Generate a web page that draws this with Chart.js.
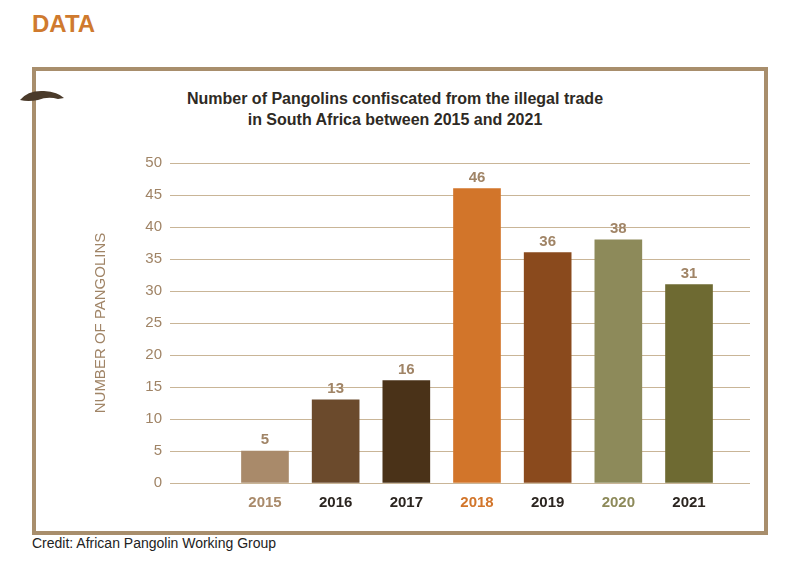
<!DOCTYPE html>
<html lang="en">
<head>
    <meta charset="UTF-8">
    <title>Pangolins confiscated</title>
    <script src="https://cdn.jsdelivr.net/npm/chart.js"></script>
    <style>
        body { margin: 0; background: #fff; font-family: "Liberation Sans Narrow", "Liberation Sans", sans-serif; }
        .page { position: relative; width: 800px; height: 564px; overflow: hidden; }
        .heading { position: absolute; left: 32px; top: 10px; font-size: 24px; font-weight: bold; color: #cf7a2e; }
        .frame { position: absolute; left: 32px; top: 67px; width: 728px; height: 460px; border: 4px solid #a88e6c; }
        .title { position: absolute; left: 0; width: 790px; top: 88px; text-align: center; font-size: 16px; font-weight: bold; color: #2e2a24; line-height: 21px; }
        .credit { position: absolute; left: 32px; top: 535px; font-size: 14px; color: #222; font-family: "Liberation Sans", sans-serif; }
        .icon { position: absolute; left: 18px; top: 86px; }
        canvas { position: absolute; left: 0; top: 0; }
    </style>
</head>
<body>
<div class="page">
    <div class="heading">DATA</div>
    <div class="frame"></div>
    <svg class="icon" width="50" height="20"><path d="M2 14 Q10 4 26 5 Q40 6 46 12 L40 13 Q30 10 20 14 Q10 16 2 14Z" fill="#4a3a2a"/></svg>
    <div class="title">Number of Pangolins confiscated from the illegal trade<br>in South Africa between 2015 and 2021</div>
    <div class="credit">Credit: African Pangolin Working Group</div>
    <canvas id="chart" width="800" height="564"></canvas>
</div>
<script>
    // values
    const years = [2015, 2016, 2017, 2018, 2019, 2020, 2021];
    const counts = [5, 13, 16, 46, 36, 38, 31];
    const barColors = ['#a98a6a', '#6b4a2c', '#4a3218', '#d2752a', '#8a4a1d', '#8d8a5a', '#6e6a32'];
    const tickColors = { 2015: '#a98a6a', 2016: '#2b2520', 2017: '#2b2520', 2018: '#d2752a', 2019: '#2b2520', 2020: '#8d8a5a', 2021: '#2b2520' };
    const font = "'Liberation Sans Narrow', 'Liberation Sans', sans-serif";

    // value labels above the bars
    const valueLabels = {
        id: 'valueLabels',
        afterDatasetsDraw(chart) {
            const ctx = chart.ctx;
            ctx.save();
            ctx.font = 'bold 15px ' + font;
            ctx.fillStyle = '#a08466';
            ctx.textAlign = 'center';
            chart.getDatasetMeta(0).data.forEach((bar, i) => {
                ctx.fillText(counts[i], bar.x, bar.y - 7);
            });
            ctx.restore();
        }
    };

    new Chart(document.getElementById('chart'), {
        type: 'bar',
        data: {
            datasets: [{
                data: years.map((y, i) => ({ x: y, y: counts[i] })),
                backgroundColor: barColors,
                barThickness: 47
            }]
        },
        options: {
            responsive: false,
            animation: false,
            layout: { padding: { left: 88, right: 50, top: 163, bottom: 51 } },
            plugins: { legend: { display: false }, tooltip: { enabled: false } },
            scales: {
                x: {
                    type: 'linear',
                    offset: false,
                    min: 2013.656,
                    max: 2021.863,
                    afterFit: s => { s.height = 30; },
                    afterBuildTicks: s => { s.ticks = years.map(v => ({ value: v })); },
                    grid: { display: false },
                    border: { display: false },
                    ticks: {
                        autoSkip: false,
                        maxRotation: 0,
                        font: { family: font, size: 15, weight: 'bold' },
                        color: c => tickColors[c.tick.value] || '#000',
                        callback: v => String(v)
                    }
                },
                y: {
                    min: 0,
                    max: 50,
                    afterFit: s => { s.width = 82; },
                    grid: { color: '#c9b597', lineWidth: 1, drawTicks: false },
                    border: { display: false },
                    ticks: { stepSize: 5, padding: 8, font: { family: font, size: 15 }, color: '#a08466' },
                    title: { display: true, text: 'NUMBER OF PANGOLINS', color: '#a08466', font: { family: font, size: 15 } }
                }
            }
        },
        plugins: [valueLabels]
    });
</script>
</body>
</html>
